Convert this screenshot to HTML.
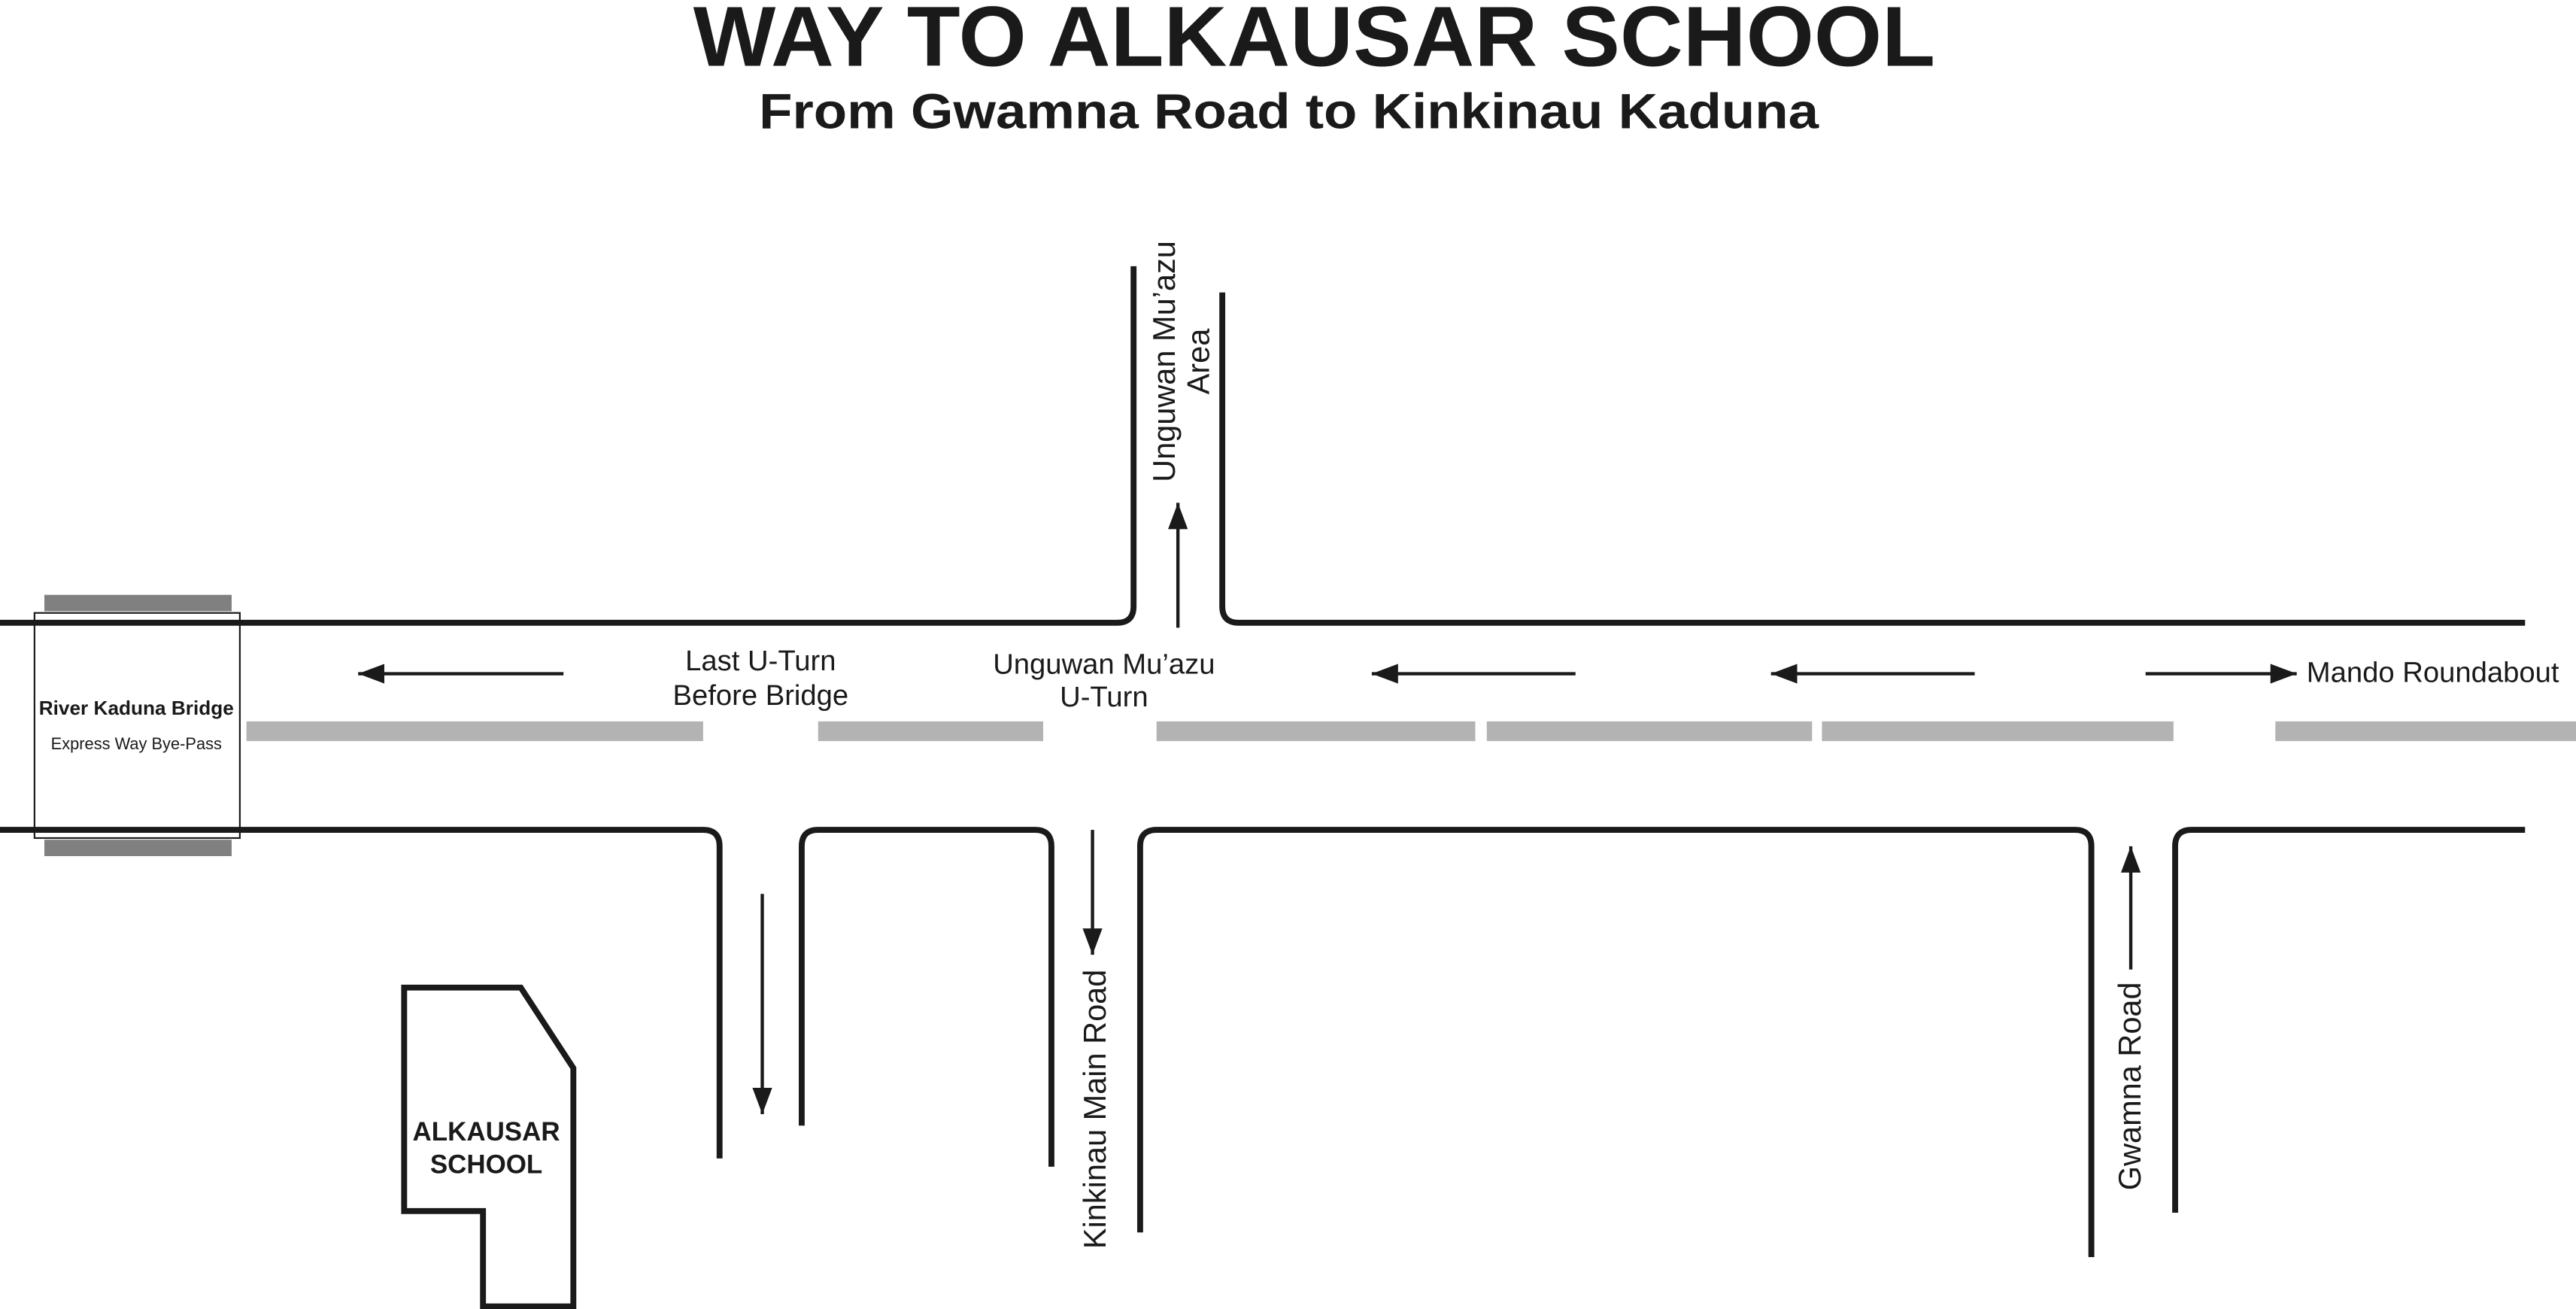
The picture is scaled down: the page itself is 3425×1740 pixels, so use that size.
<!DOCTYPE html>
<html><head><meta charset="utf-8"><style>html,body{margin:0;padding:0;background:#fff;width:3425px;height:1740px;overflow:hidden}svg{display:block}</style></head>
<body>
<svg width="3425" height="1740" viewBox="0 0 1568 796.6" preserveAspectRatio="none" xmlns="http://www.w3.org/2000/svg" font-family="Liberation Sans, Arial, sans-serif">
<defs>
<marker id="b" viewBox="0 0 16 12" refX="16" refY="6" markerWidth="16" markerHeight="12" orient="auto" markerUnits="userSpaceOnUse"><path d="M0,0 L16,6 L0,12 Z" fill="#1a1a1a"/></marker></defs>
<text x="422" y="40" font-size="52" font-weight="bold" fill="#1a1a1a" textLength="756" lengthAdjust="spacingAndGlyphs">WAY TO ALKAUSAR SCHOOL</text>
<text x="462" y="78" font-size="30" font-weight="bold" fill="#1a1a1a" textLength="645" lengthAdjust="spacingAndGlyphs">From Gwamna Road to Kinkinau Kaduna</text>
<g fill="#b3b3b3"><rect x="150" y="439" width="278" height="12"/><rect x="498" y="439" width="137" height="12"/><rect x="704" y="439" width="194" height="12"/><rect x="905" y="439" width="198" height="12"/><rect x="1109" y="439" width="214" height="12"/><rect x="1385" y="439" width="183" height="12"/></g>
<g fill="#808080"><rect x="27" y="362" width="114" height="10"/><rect x="27" y="511" width="114" height="10"/></g>
<g fill="none" stroke="#1a1a1a" stroke-width="3.6">
<path d="M0,379 H680 Q690,379 690,369 V162"/>
<path d="M744,178 V369 Q744,379 754,379 H1537"/>
<path d="M0,505 H428 Q438,505 438,515 V705"/>
<path d="M488,685 V515 Q488,505 498,505 H630 Q640,505 640,515 V710"/>
<path d="M694,750 V515 Q694,505 704,505 H1263 Q1273,505 1273,515 V765"/>
<path d="M1324,738 V515 Q1324,505 1334,505 H1537"/>
<path d="M246,601 H317 L349,650 V795 H294 V737 H246 Z"/>
</g>
<rect x="21" y="373" width="125" height="137" fill="none" stroke="#1a1a1a" stroke-width="1"/>
<g stroke="#1a1a1a" stroke-width="2" marker-end="url(#b)">
<line x1="343" y1="410" x2="218" y2="410"/><line x1="959" y1="410" x2="835" y2="410"/><line x1="1202" y1="410" x2="1078" y2="410"/><line x1="1306" y1="410" x2="1398" y2="410"/>
<line x1="717" y1="382" x2="717" y2="306"/><line x1="464" y1="544" x2="464" y2="678"/><line x1="665" y1="505" x2="665" y2="581"/><line x1="1297" y1="590" x2="1297" y2="515"/>
</g>
<g fill="#1a1a1a" font-size="17.5" text-anchor="middle">
<text x="83" y="435" font-size="12" font-weight="bold">River Kaduna Bridge</text>
<text x="83" y="456" font-size="10">Express Way Bye-Pass</text>
<text x="463" y="408">Last U-Turn</text><text x="463" y="429">Before Bridge</text>
<text x="672" y="410">Unguwan Mu’azu</text><text x="672" y="430">U-Turn</text>
<text x="1404" y="415" text-anchor="start">Mando Roundabout</text>
<g font-size="19">
<text transform="translate(715,220) rotate(-90)">Unguwan Mu’azu</text>
<text transform="translate(736,220) rotate(-90)">Area</text>
<text transform="translate(673,675) rotate(-90)">Kinkinau Main Road</text>
<text transform="translate(1303,661) rotate(-90)">Gwamna Road</text>
</g>
<text x="296" y="694" font-weight="bold" font-size="16">ALKAUSAR</text><text x="296" y="714" font-weight="bold" font-size="16">SCHOOL</text>
</g>
</svg>
</body></html>
